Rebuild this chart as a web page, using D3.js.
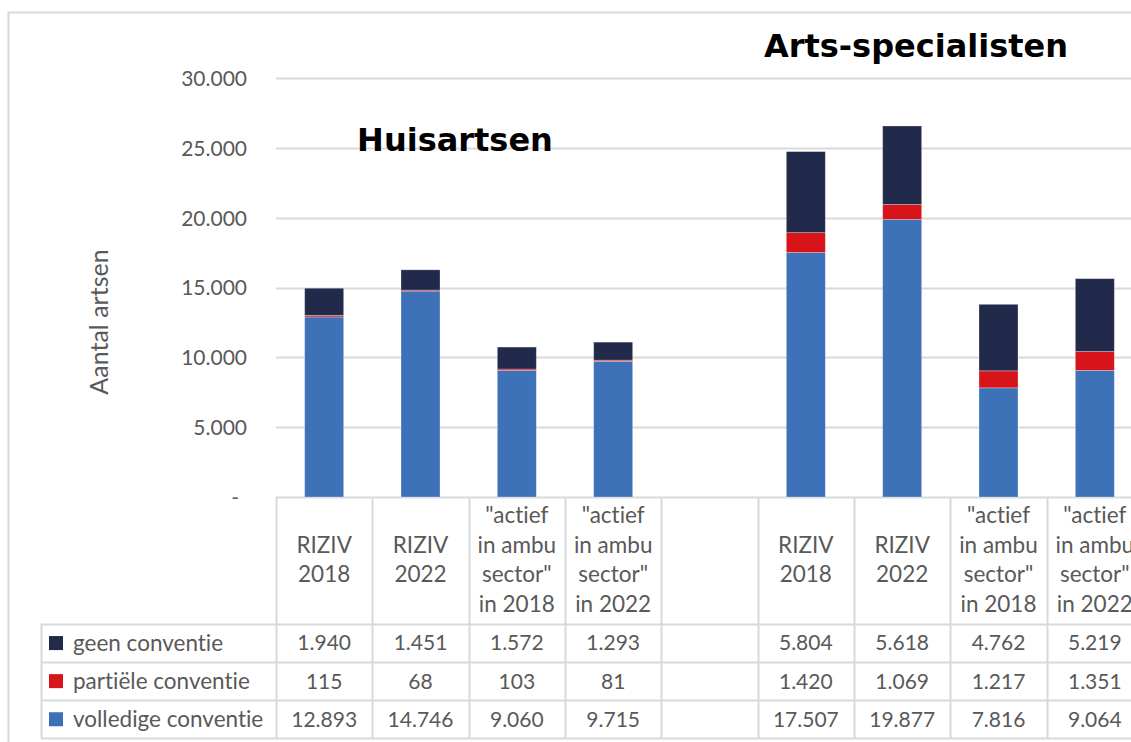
<!DOCTYPE html>
<html><head><meta charset="utf-8">
<script src="https://cdn.jsdelivr.net/npm/d3@7"></script>
<style>
html,body{margin:0;padding:0;background:#fff;}
svg{display:block;}
text{font-variant-ligatures:none;font-feature-settings:"liga" 0,"dlig" 0;}
</style></head>
<body>
<svg id="c" width="1131" height="742"></svg>
<script>
// ---- data ----
const categories = [
  ["RIZIV","2018"], ["RIZIV","2022"],
  ["\"actief","in ambu","sector\"","in 2018"], ["\"actief","in ambu","sector\"","in 2022"],
  [],
  ["RIZIV","2018"], ["RIZIV","2022"],
  ["\"actief","in ambu","sector\"","in 2018"], ["\"actief","in ambu","sector\"","in 2022"]
];
const seriesNames = ["geen conventie", "partiële conventie", "volledige conventie"];
const volledige = [12893, 14746, 9060, 9715, null, 17507, 19877, 7816, 9064];
const partiele  = [115, 68, 103, 81, null, 1420, 1069, 1217, 1351];
const geen      = [1940, 1451, 1572, 1293, null, 5804, 5618, 4762, 5219];
const yTicks = [0, 5000, 10000, 15000, 20000, 25000, 30000];
const groupTitles = ["Huisartsen", "Arts-specialisten"];
const colors = {geen:"#222A4C", partiele:"#D7141A", volledige:"#3D72B8"};

// ---- layout ----
const svg = d3.select("#c");
const plotL = 276, plotR = 1143, plotT = 78, plotB = 497;
const grid = "#D9D9D9", txt = "#595959";
const font = "Lato, 'Open Sans', sans-serif";
const numSize = 21, wordSize = 22.5;

const x = d3.scaleBand().domain(d3.range(categories.length)).range([plotL, plotR]).paddingInner(0).paddingOuter(0);
const y = d3.scaleLinear().domain([0, 30000]).range([plotB, plotT]);
const barW = 39;

// outer border
svg.append("path").attr("d", `M8.5,742 V12.5 H1131`).attr("fill","none").attr("stroke", grid).attr("stroke-width",2);

// gridlines
svg.append("g").selectAll("line").data(yTicks).join("line")
  .attr("x1", plotL).attr("x2", plotR)
  .attr("y1", d => Math.round(y(d))+0.5).attr("y2", d => Math.round(y(d))+0.5)
  .attr("stroke", grid).attr("stroke-width", 2);

// y axis labels
const fmt = d => d === 0 ? "-" : d3.format(",")(d).replace(/,/g, ".");
const yAxis = d3.axisLeft(y).tickValues(yTicks).tickFormat(fmt).tickSize(0).tickPadding(0);
const ga = svg.append("g").attr("transform", `translate(247,0)`).call(yAxis);
ga.select(".domain").remove();
ga.selectAll("text").attr("font-family", font).attr("font-size", numSize).attr("fill", txt)
  .attr("dy", "0.35em").attr("x", d => d === 0 ? -8 : 0);

// y axis title
svg.append("text").attr("transform", "translate(108,322) rotate(-90)")
  .attr("text-anchor","middle").attr("font-family", font).attr("font-size", 25).attr("fill", txt)
  .text("Aantal artsen");

// stacked bars
const rows = categories.map((c,i) => ({i, volledige: volledige[i], partiele: partiele[i], geen: geen[i]}))
  .filter(d => d.volledige != null);
const stack = d3.stack().keys(["volledige","partiele","geen"]);
const layers = stack(rows);
svg.append("g").selectAll("g").data(layers).join("g")
  .attr("fill", d => colors[d.key])
  .selectAll("rect").data(d => d).join("rect")
  .attr("x", d => x(d.data.i) + x.bandwidth()/2 - barW/2)
  .attr("width", barW)
  .attr("y", d => y(d[1]))
  .attr("height", d => y(d[0]) - y(d[1]))
  .attr("stroke", "#ffffff").attr("stroke-opacity", 0.35).attr("stroke-width", 0.8);

// group titles
svg.append("text").attr("x", 455).attr("y", 151).attr("text-anchor","middle")
  .attr("font-family","'DejaVu Sans', Verdana, sans-serif").attr("font-weight","bold").attr("font-size", 32)
  .attr("fill","#000").text(groupTitles[0]);
svg.append("text").attr("x", 916).attr("y", 57).attr("text-anchor","middle")
  .attr("font-family","'DejaVu Sans', Verdana, sans-serif").attr("font-weight","bold").attr("font-size", 32)
  .attr("fill","#000").text(groupTitles[1]);

// ---- data table ----
const headerB = 624, rowH = 38.1, legL = 41;
const tableB = headerB + rowH*3;
const tg = svg.append("g");
const bounds = d3.range(categories.length + 1).map(i => i < categories.length ? x(i) : plotR);
tg.selectAll("line.v").data(bounds).join("line").attr("class","v")
  .attr("x1", d => Math.round(d)+0.5).attr("x2", d => Math.round(d)+0.5)
  .attr("y1", plotB).attr("y2", tableB).attr("stroke", grid).attr("stroke-width", 2);
tg.append("line").attr("x1", legL+0.5).attr("x2", legL+0.5).attr("y1", headerB).attr("y2", tableB)
  .attr("stroke", grid).attr("stroke-width", 2);
d3.range(4).forEach(k => {
  const yy = Math.round(headerB + k*rowH)+0.5;
  tg.append("line").attr("x1", legL).attr("x2", plotR).attr("y1", yy).attr("y2", yy)
    .attr("stroke", grid).attr("stroke-width", 2);
});
// header labels
const headMid = (plotB + headerB)/2 - 1;
categories.forEach((lines, i) => {
  const lh = 29.5;
  const t = tg.append("text").attr("text-anchor","middle").attr("font-family", font)
    .attr("font-size", wordSize).attr("fill", txt);
  lines.forEach((ln, j) => {
    t.append("tspan").attr("x", x(i) + x.bandwidth()/2)
      .attr("y", headMid + (j - (lines.length-1)/2)*lh).attr("dy","0.35em").text(ln);
  });
});
// rows
const rowData = [
  {name: seriesNames[0], vals: geen, color: colors.geen},
  {name: seriesNames[1], vals: partiele, color: colors.partiele},
  {name: seriesNames[2], vals: volledige, color: colors.volledige}
];
const fmtV = d => d3.format(",")(d).replace(/,/g, ".");
rowData.forEach((r, k) => {
  const cy = headerB + rowH*(k + 0.5);
  tg.append("rect").attr("x", 49).attr("y", cy - 7).attr("width", 14).attr("height", 14).attr("fill", r.color);
  tg.append("text").attr("x", 73).attr("y", cy).attr("dy","0.35em").attr("font-family", font)
    .attr("font-size", wordSize).attr("fill", txt).text(r.name);
  r.vals.forEach((v, i) => {
    if (v == null) return;
    tg.append("text").attr("x", x(i) + x.bandwidth()/2).attr("y", cy).attr("dy","0.35em")
      .attr("text-anchor","middle").attr("font-family", font).attr("font-size", numSize).attr("fill", txt)
      .text(fmtV(v));
  });
});
</script>
</body></html>
